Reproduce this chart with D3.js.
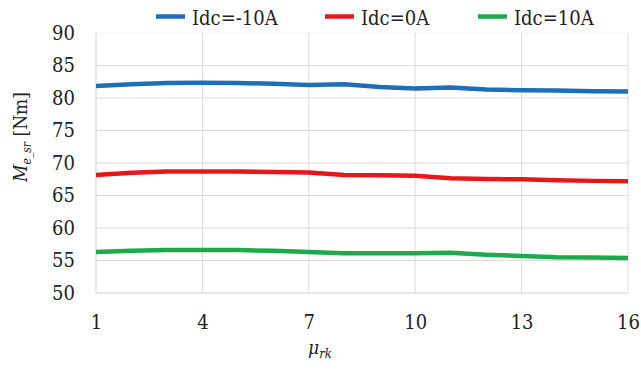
<!DOCTYPE html>
<html>
<head>
<meta charset="utf-8">
<script src="https://cdn.jsdelivr.net/npm/d3@7/dist/d3.min.js"></script>
<style>
  html, body { margin: 0; padding: 0; background: #fff; }
  svg text { font-stretch: condensed; }
</style>
</head>
<body>
<svg id="chart" width="641" height="370"></svg>
<script>
// Relative permeability of the rotor core
const mu = [1, 2, 3, 4, 5, 6, 7, 8, 9, 10, 11, 12, 13, 14, 15, 16];

// Average torque [Nm] for each DC current
const torqueNeg10 = [81.85, 82.1, 82.3, 82.35, 82.3, 82.2, 82.0, 82.1, 81.7, 81.45, 81.6, 81.3, 81.2, 81.15, 81.05, 81.0];
const torque0     = [68.15, 68.5, 68.7, 68.7, 68.7, 68.6, 68.55, 68.15, 68.1, 68.05, 67.65, 67.55, 67.5, 67.35, 67.25, 67.2];
const torque10    = [56.3, 56.5, 56.6, 56.6, 56.6, 56.5, 56.3, 56.1, 56.1, 56.1, 56.2, 55.9, 55.7, 55.5, 55.45, 55.4];

const seriesNames  = ["Idc=-10A", "Idc=0A", "Idc=10A"];
const seriesColors = ["#1f6fb8", "#e8161b", "#1daa4e"];
const seriesValues = [torqueNeg10, torque0, torque10];

const xTicks = [1, 4, 7, 10, 13, 16];
const yTicks = [50, 55, 60, 65, 70, 75, 80, 85, 90];

const serif = "'DejaVu Serif Condensed', 'DejaVu Serif', serif";

const svg = d3.select("#chart");
const plotLeft = 96, plotRight = 628, plotTop = 33, plotBottom = 293;

const x = d3.scaleLinear().domain([1, 16]).range([plotLeft, plotRight]);
const y = d3.scaleLinear().domain([50, 90]).range([plotBottom, plotTop]);

// Gridlines
svg.append("g").selectAll("line").data(yTicks.filter(v => v > 50)).join("line")
  .attr("x1", plotLeft).attr("x2", plotRight)
  .attr("y1", d => y(d)).attr("y2", d => y(d))
  .attr("stroke", d => d === 90 ? "#f0f0f0" : "#dcdcdc").attr("stroke-width", 1);
svg.append("g").selectAll("line").data(xTicks.filter(v => v > 1)).join("line")
  .attr("x1", d => x(d)).attr("x2", d => x(d))
  .attr("y1", plotTop).attr("y2", plotBottom)
  .attr("stroke", "#dcdcdc").attr("stroke-width", 1);

// Axis lines
svg.append("line").attr("x1", plotLeft).attr("x2", plotLeft).attr("y1", plotTop).attr("y2", plotBottom)
  .attr("stroke", "#d0d0d0");
svg.append("line").attr("x1", plotLeft).attr("x2", plotRight).attr("y1", plotBottom).attr("y2", plotBottom)
  .attr("stroke", "#d0d0d0");

// Y axis tick labels
const yAxis = d3.axisLeft(y).tickValues(yTicks).tickSize(0).tickPadding(21);
const gy = svg.append("g").attr("transform", `translate(${plotLeft},0)`).call(yAxis)
  .attr("font-family", serif).attr("font-size", 20);
gy.select(".domain").remove();
gy.selectAll("text").attr("fill", "#222");

// X axis tick labels
const xAxis = d3.axisBottom(x).tickValues(xTicks).tickSize(0).tickPadding(22);
const gx = svg.append("g").attr("transform", `translate(0,${plotBottom})`).call(xAxis)
  .attr("font-family", serif).attr("font-size", 20);
gx.select(".domain").remove();
gx.selectAll("text").attr("fill", "#222");

// Series lines
const line = d3.line().x((d, i) => x(mu[i])).y(d => y(d));
seriesValues.forEach((vals, k) => {
  svg.append("path").datum(vals)
    .attr("fill", "none")
    .attr("stroke", seriesColors[k])
    .attr("stroke-width", 4.5)
    .attr("stroke-linejoin", "round")
    .attr("d", line);
});

// Legend
const legendX = [156, 325, 478];
const legend = svg.append("g");
seriesNames.forEach((name, k) => {
  const lx = legendX[k];
  legend.append("line").attr("x1", lx).attr("x2", lx + 29).attr("y1", 16.5).attr("y2", 16.5)
    .attr("stroke", seriesColors[k]).attr("stroke-width", 4.5);
  legend.append("text").attr("x", lx + 36).attr("y", 25)
    .attr("font-family", serif).attr("font-size", 20).attr("fill", "#222").text(name);
});

// Y axis title
const yt = svg.append("text")
  .attr("transform", "translate(27,137) rotate(-90)")
  .attr("text-anchor", "middle")
  .attr("font-family", serif)
  .attr("fill", "#222")
  .attr("font-size", 19);
yt.append("tspan").attr("font-style", "italic").text("M");
yt.append("tspan").attr("dy", 4).attr("font-size", 12).attr("font-style", "italic").text("e_sr");
yt.append("tspan").attr("dy", -4).text(" [Nm]");

// X axis title
const xt = svg.append("text")
  .attr("x", 320).attr("y", 354)
  .attr("text-anchor", "middle")
  .attr("font-family", serif)
  .attr("fill", "#222")
  .attr("font-size", 19);
xt.append("tspan").attr("font-style", "italic").text("μ");
xt.append("tspan").attr("dy", 4).attr("font-size", 13).attr("font-style", "italic").text("rk");
</script>
</body>
</html>
